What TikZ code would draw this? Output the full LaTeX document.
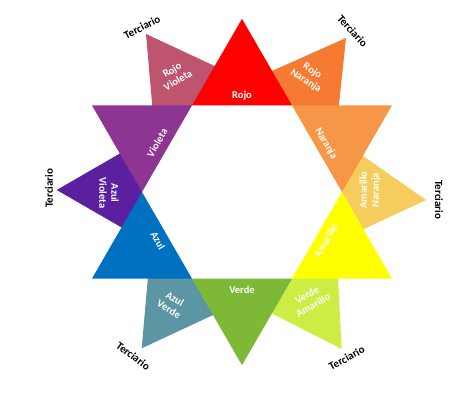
\documentclass[tikz,border=0pt]{standalone}
\usepackage{fontspec}
\setmainfont{Carlito}

\definecolor{rojo}{HTML}{FF0000}
\definecolor{naranja}{HTML}{F79646}
\definecolor{amarillo}{HTML}{FFFF00}
\definecolor{verde}{HTML}{7DB937}
\definecolor{azul}{HTML}{0070C0}
\definecolor{violeta}{HTML}{8E3493}
\definecolor{rojovioleta}{HTML}{BE546E}
\definecolor{rojonaranja}{HTML}{F57A32}
\definecolor{amarillonaranja}{HTML}{F6CC5C}
\definecolor{verdeamarillo}{HTML}{CCEE44}
\definecolor{azulverde}{HTML}{5C96A4}
\definecolor{azulvioleta}{HTML}{5B1F9F}

\begin{document}
\begin{tikzpicture}[x=1pt,y=1pt,
    nombre/.style={text=white, font=\bfseries\fontsize{10.5}{12}\selectfont, align=center, inner sep=0pt},
    terciario/.style={font=\bfseries\fontsize{11}{13}\selectfont, inner sep=0pt}]

    \useasboundingbox (-242,-215) rectangle (232,192);

    % corners of the white hexagon
    \foreach \a in {0,60,...,300}
        \coordinate (h\a) at (\a:100);

    % tips of the tertiary triangles
    \coordinate (rv) at (-96,158);
    \coordinate (rn) at (104,154);
    \coordinate (an) at (184,-8);
    \coordinate (va) at (99.7,-157);
    \coordinate (av) at (-100.3,-156.3);
    \coordinate (azv) at (-185.3,2);

    % tertiary triangles (behind the star)
    \fill[rojovioleta] (h120) -- ([shift={(rv)}]275:90) -- (rv) -- ([shift={(rv)}]335:90) -- cycle;
    \fill[rojonaranja] (h60) -- ([shift={(rn)}]204:90) -- (rn) -- ([shift={(rn)}]264:90) -- cycle;
    \fill[amarillonaranja] (h0) -- ([shift={(an)}]145:90) -- (an) -- ([shift={(an)}]205:90) -- cycle;
    \fill[verdeamarillo] (h300) -- ([shift={(va)}]93:90) -- (va) -- ([shift={(va)}]153:90) -- cycle;
    \fill[azulverde] (h240) -- ([shift={(av)}]25:90) -- (av) -- ([shift={(av)}]85:90) -- cycle;
    \fill[azulvioleta] (h180) -- ([shift={(azv)}]330:90) -- (azv) -- ([shift={(azv)}]30:90) -- cycle;

    % primary and secondary triangles
    \foreach \a/\c in {90/rojo, 30/naranja, -30/amarillo, -90/verde, -150/azul, 150/violeta}
        \fill[\c] (\a+30:100) -- (\a:173.2) -- (\a-30:100) -- cycle;

    % names of the colours
    \node[nombre] (rojo) at (90:96) {Rojo};
    \node[nombre, rotate=-60] (naranja) at (30:97) {Naranja};
    \node[nombre, rotate=60] (amarillo) at (-30:97) {Amarillo};
    \node[nombre] (verde) at (-90:98) {Verde};
    \node[nombre, rotate=-60] (azul) at (-150:97) {Azul};
    \node[nombre, rotate=60] (violeta) at (150:98) {Violeta};

    \node[nombre, rotate=30] (rojovioleta) at (-67,117) {Rojo\\Violeta};
    \node[nombre, rotate=-33] (rojonaranja) at (67,116) {Rojo\\Naranja};
    \node[nombre, rotate=90] (amarillonaranja) at (128,2) {Amarillo\\Naranja};
    \node[nombre, rotate=30] (verdeamarillo) at (68,-108) {Verde\\Amarillo};
    \node[nombre, rotate=-30] (azulverde) at (-70,-112) {Azul\\Verde};
    \node[nombre, rotate=-90] (azulvioleta) at (-133,-1) {Azul\\Violeta};

    % Terciario
    \node[terciario, rotate=27] (t1) at (-100,165) {Terciario};
    \node[terciario, rotate=-48] (t2) at (110.5,161) {Terciario};
    \node[terciario, rotate=-90] (t3) at (197,-8) {Terciario};
    \node[terciario, rotate=29] (t4) at (104.7,-166) {Terciario};
    \node[terciario, rotate=-37] (t5) at (-108.7,-164) {Terciario};
    \node[terciario, rotate=90] (t6) at (-193,4) {Terciario};

\end{tikzpicture}
\end{document}
